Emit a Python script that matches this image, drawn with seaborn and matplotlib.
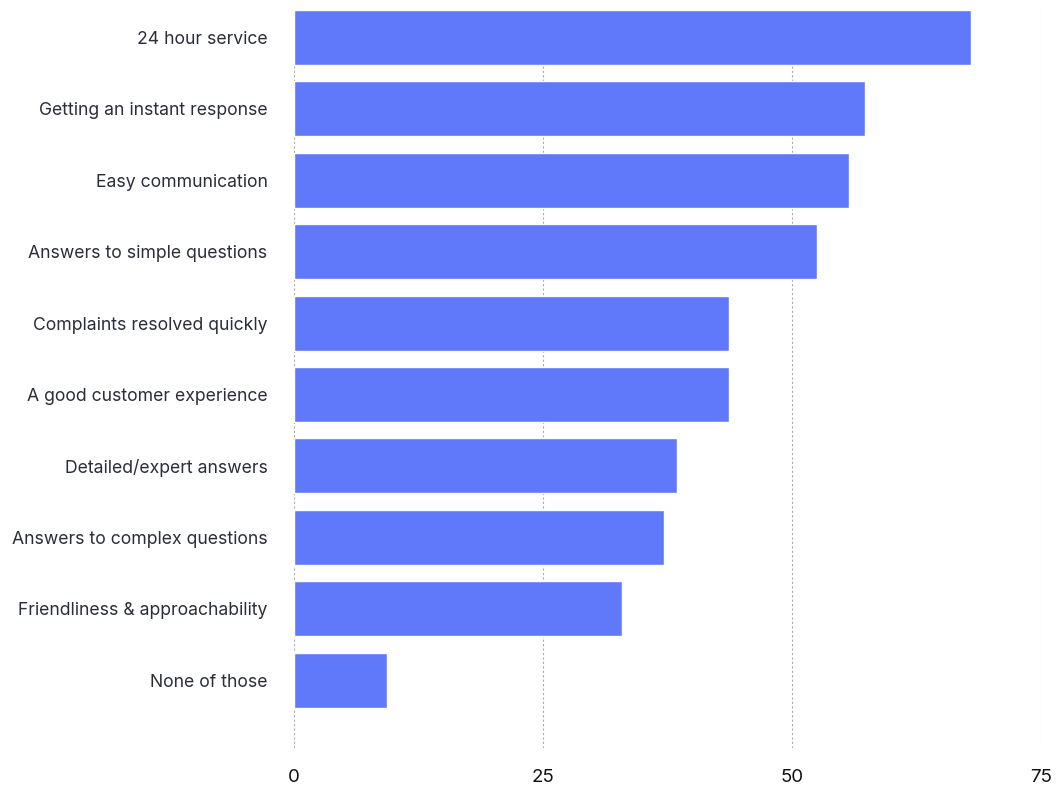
import pandas as pd
import seaborn as sns
import matplotlib.pyplot as plt

# data
categories = [
    "24 hour service",
    "Getting an instant response",
    "Easy communication",
    "Answers to simple questions",
    "Complaints resolved quickly",
    "A good customer experience",
    "Detailed/expert answers",
    "Answers to complex questions",
    "Friendliness & approachability",
    "None of those",
]
values = [68.0, 57.3, 55.7, 52.5, 43.7, 43.7, 38.5, 37.1, 32.9, 9.3]
x_ticks = [0, 25, 50, 75]

df = pd.DataFrame({"reason": categories, "share": values})

sns.set_theme(style="white")
plt.rcParams["font.family"] = ["Inter", "DejaVu Sans"]

fig = plt.figure(figsize=(10.57, 7.89), dpi=100)
ax = fig.add_axes([294 / 1057, 1 - 748 / 789, (1041 - 294) / 1057, (748 - 10) / 789])

sns.barplot(data=df, x="share", y="reason", orient="h", color="#6079fb",
            saturation=1, width=0.77, ax=ax, zorder=3)

ax.set_xlim(0, 75)
ax.set_ylim(9.95, -0.385)
ax.set_xticks(x_ticks)
ax.grid(axis="x", linestyle=(0, (2, 2)), color="#aaaaaa", linewidth=0.8, zorder=0)
ax.grid(axis="y", visible=False)
for s in ax.spines.values():
    s.set_visible(False)
ax.set_xlabel("")
ax.set_ylabel("")
ax.tick_params(axis="y", length=0, pad=19, labelsize=12.7, labelcolor="#2b2d3a")
ax.tick_params(axis="x", length=0, pad=15, labelsize=13.5, labelcolor="#111111")

fig.savefig("out.png", dpi=100)
